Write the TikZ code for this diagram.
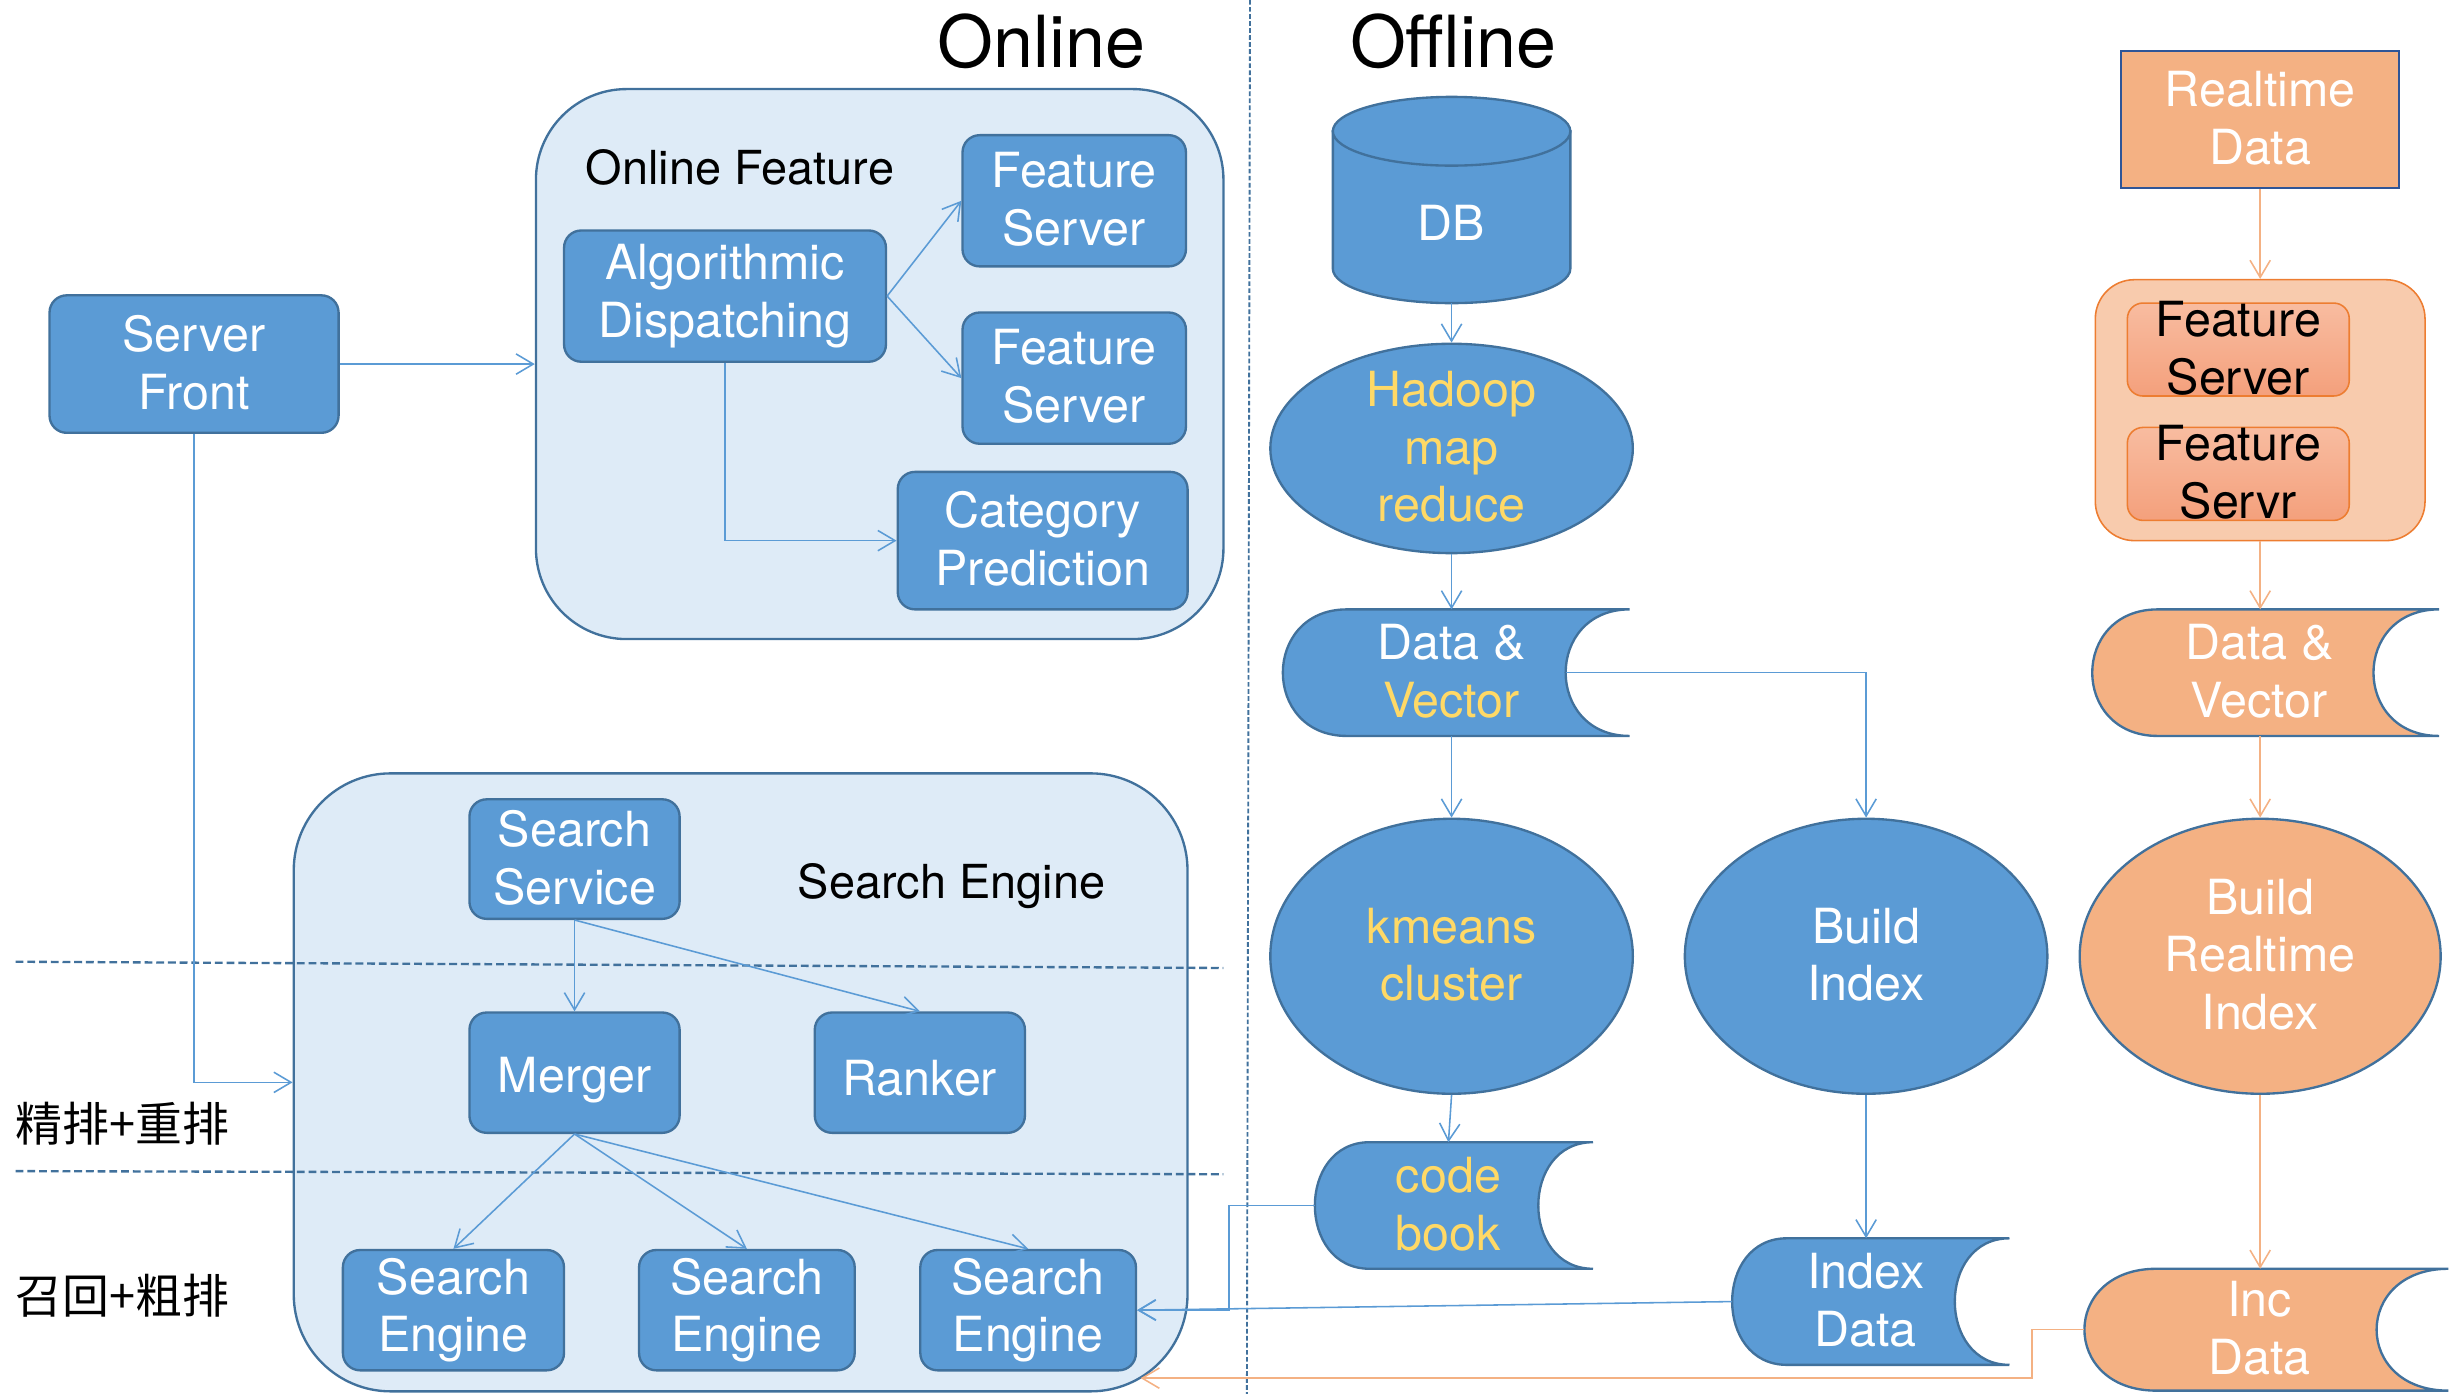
\documentclass[tikz,border=0pt]{standalone}
\usepackage{fontspec}
\setmainfont{TeX Gyre Heros}
\newfontfamily\cjkfont{Noto Sans CJK SC}
\usetikzlibrary{arrows.meta,shapes.geometric,calc,backgrounds}
\definecolor{boxblue}{HTML}{5B9BD5}
\definecolor{edgeblue}{HTML}{41719C}
\definecolor{contfill}{HTML}{DEEBF7}
\definecolor{txtyellow}{HTML}{FFD966}
\definecolor{orfill}{HTML}{F4B183}
\definecolor{orlight}{HTML}{F8CBAD}
\definecolor{oredge}{HTML}{ED7D31}
\definecolor{rtedge}{HTML}{2F5597}
\definecolor{ibtop}{HTML}{F8BCA0}
\definecolor{ibbot}{HTML}{F4A07C}
\newcommand\bstrut{\rule[-2.5pt]{0pt}{34.5pt}}
% #1 node, #2 bulge, #3 style, #4 x offset of the shape relative to the node
\newcommand\sdpath[4]{%
  \path[#3] ($(#1.north west)+(#2+#4,0)$) -- ($(#1.north east)+(#4,0)$)
   .. controls ($(#1.north east)+(-1.333*#2+#4,0)$) and ($(#1.south east)+(-1.333*#2+#4,0)$) .. ($(#1.south east)+(#4,0)$)
   -- ($(#1.south west)+(#2+#4,0)$)
   .. controls ($(#1.south west)+(-0.333*#2+#4,0)$) and ($(#1.north west)+(-0.333*#2+#4,0)$) .. ($(#1.north west)+(#2+#4,0)$) -- cycle;}
\tikzset{
 txt/.style={align=center, inner sep=0pt, font=\fontsize{31}{37}\selectfont, execute at begin node=\bstrut, execute at end node=\bstrut},
 lbl/.style={txt, font=\fontsize{30}{37}\selectfont, text=black},
 bbox/.style={txt, draw=edgeblue, fill=boxblue, line width=1.5pt, rounded corners=11pt, text=white},
 cont/.style={draw=edgeblue, fill=contfill, line width=1.5pt, inner sep=0pt},
 ell/.style={txt, ellipse, draw=edgeblue, fill=boxblue, line width=1.5pt, inner xsep=0pt, inner ysep=-30pt, minimum width=232, minimum height=176, text=white},
 sdnode/.style={txt, outer sep=0pt, text=white},
 sdblue/.style={fill=boxblue, draw=edgeblue, line width=1.5pt},
 sdorange/.style={fill=orfill, draw=edgeblue, line width=1.5pt},
 conn/.style={draw=boxblue, line width=1pt, -{Straight Barb[length=11pt,width=13pt]}},
 oconn/.style={conn, draw=orfill},
 hdash/.style={draw=edgeblue, line width=1.5pt, dash pattern=on 5pt off 2.5pt},
 vdash/.style={draw=edgeblue, line width=1.2pt, dash pattern=on 3pt off 1.5pt},
 title/.style={font=\fontsize{46}{50}\selectfont, inner sep=0pt, anchor=base},
 ibox/.style={txt, draw=oredge, line width=1pt, rounded corners=10pt, top color=ibtop, bottom color=ibbot, text=black, inner ysep=-8pt, minimum width=142, minimum height=59.5},
}
\begin{document}
\begin{tikzpicture}[x=1pt,y=-1pt]
\useasboundingbox (0,0) rectangle (1568,892);
% titles
\node[title] (tonl) at (666.5,43) {Online};
\node[title] (toff) at (930,43) {Offline};
% online feature
\node[cont, rounded corners=58pt, minimum width=440, minimum height=352] (ofc) at (563,233) {};
\node[lbl] (oflbl) at (473.5,103.5) {Online Feature};
\node[bbox, minimum width=206, minimum height=84] (algo) at (464,189.5) {Algorithmic\\Dispatching};
\node[bbox, minimum width=143, minimum height=84] (fs1) at (687.5,128.5) {Feature\\Server};
\node[bbox, minimum width=143, minimum height=84] (fs2) at (687.5,242) {Feature\\Server};
\node[bbox, minimum width=185.5, minimum height=88] (cp) at (667.3,346) {Category\\Prediction};
\node[bbox, minimum width=185, minimum height=88] (sf) at (124.2,233) {Server\\Front};
% search engine
\node[cont, rounded corners=62pt, minimum width=572, minimum height=395.5] (sec) at (474,692.7) {};
\draw[hdash] (10,615.5) -- (783,619.5);
\draw[hdash] (10,749.5) -- (783,751.5);
\node[lbl] (selbl) at (609,562) {Search Engine};
\node[bbox, minimum width=134.5, minimum height=76.5] (ss) at (367.7,549.8) {Search\\Service};
\node[bbox, minimum width=134.5, minimum height=77] (mg) at (367.7,686.5) {Merger};
\node[bbox, minimum width=134.5, minimum height=77] (rk) at (588.7,686.5) {Ranker};
\node[bbox, minimum width=141.5, minimum height=77] (se1) at (290.2,838.5) {Search\\Engine};
\node[bbox, minimum width=138, minimum height=77] (se2) at (478,838.5) {Search\\Engine};
\node[bbox, minimum width=138, minimum height=77] (se3) at (658,838.5) {Search\\Engine};
\node[lbl, font=\cjkfont\fontsize{30}{37}\selectfont, anchor=west] (lfine) at (10,716) {精排+重排};
\node[lbl, font=\cjkfont\fontsize{30}{37}\selectfont, anchor=west] (lcoarse) at (10,826) {召回+粗排};
% offline
\node[txt, text=white, outer sep=0pt, minimum width=152, minimum height=110] (db) at (929,139) {DB};
\node[ell, text=txtyellow, minimum height=134] (hd) at (929,287) {Hadoop\\map\\reduce};
\node[sdnode, minimum width=222, minimum height=81] (dv) at (929,430.5) {Data \&\\\textcolor{txtyellow}{Vector}};
\node[ell, text=txtyellow] (km) at (929,612) {kmeans\\cluster};
\node[sdnode, text=txtyellow, minimum width=178, minimum height=81] (cb) at (927,771.5) {code\\book};
\node[ell] (bi) at (1194.3,612) {Build\\Index};
\node[sdnode, minimum width=177.5, minimum height=81] (idx) at (1194,833) {Index\\Data};
% realtime
\node[txt, draw=rtedge, fill=orfill, line width=1.5pt, text=white, minimum width=178, minimum height=88] (rt) at (1446.5,76.5) {Realtime\\Data};
\node[cont, draw=oredge, fill=orlight, line width=1pt, rounded corners=25pt, minimum width=211, minimum height=167] (oc) at (1446.5,262.5) {};
\node[ibox] (ifs1) at (1432.5,223.7) {Feature\\Server};
\node[ibox] (ifs2) at (1432.5,303.3) {Feature\\Servr};
\node[sdnode, minimum width=222, minimum height=81] (odv) at (1446,430.5) {Data \&\\Vector};
\node[ell, fill=orfill, minimum width=231] (bri) at (1446.5,612) {Build\\Realtime\\Index};
\node[sdnode, minimum width=233, minimum height=78] (inc) at (1446,851) {Inc\\Data};
\coordinate (incend) at (730,882);
% background shapes
\begin{scope}[on background layer]
 \path[fill=boxblue, draw=edgeblue, line width=1.5pt] (db.north west) -- ($(db.south west)+(0,-22)$)
   .. controls ($(db.south west)+(0,-9.85)$) and ($(db.south)+(-41.97,0)$) .. (db.south)
   .. controls ($(db.south)+(41.97,0)$) and ($(db.south east)+(0,-9.85)$) .. ($(db.south east)+(0,-22)$)
   -- (db.north east) -- cycle;
 \path[fill=boxblue, draw=edgeblue, line width=1.5pt] (db.north) ellipse [x radius=76, y radius=22];
 \sdpath{dv}{41}{sdblue}{3}
 \sdpath{cb}{35}{sdblue}{3.5}
 \sdpath{idx}{35}{sdblue}{3.3}
 \sdpath{odv}{42}{sdorange}{4}
 \sdpath{inc}{46}{sdorange}{4.5}
\end{scope}
% divider
\draw[vdash] (800,0) -- (798,892);
% connectors online
\draw[conn] (sf.east) -- (ofc.west);
\draw[conn] (algo.east) -- (fs1.west);
\draw[conn] (algo.east) -- (fs2.west);
\draw[conn] (algo.south) |- (cp.west);
\draw[conn] (sf.south) |- (sec.west);
\draw[conn] (ss.south) -- (mg.north);
\draw[conn] (ss.south) -- (rk.north);
\draw[conn] (mg.south) -- (se1.north);
\draw[conn] (mg.south) -- (se2.north);
\draw[conn] (mg.south) -- (se3.north);
% connectors offline
\draw[conn] (db.south) -- (hd.north);
\draw[conn] (hd.south) -- (hd.south |- dv.north);
\draw[conn] (km.north |- dv.south) -- (km.north);
\draw[conn] ($(dv.east)+(-38,0)$) -| (bi.north);
\draw[conn] (km.south) -- (cb.north);
\draw[conn] (bi.south) -- (bi.south |- idx.north);
\draw[conn] ($(cb.west)+(3.5,0)$) -- ++(-55,0) |- (se3.east);
\draw[conn] ($(idx.west)+(3.3,0)$) -- (se3.east);
% connectors realtime
\draw[oconn] (rt.south) -- (oc.north);
\draw[oconn] (oc.south) -- (oc.south |- odv.north);
\draw[oconn] (bri.north |- odv.south) -- (bri.north);
\draw[oconn] (bri.south) -- (bri.south |- inc.north);
\draw[oconn] ($(inc.west)+(4.5,0)$) -- ++(-33.5,0) |- (incend);
\end{tikzpicture}
\end{document}
